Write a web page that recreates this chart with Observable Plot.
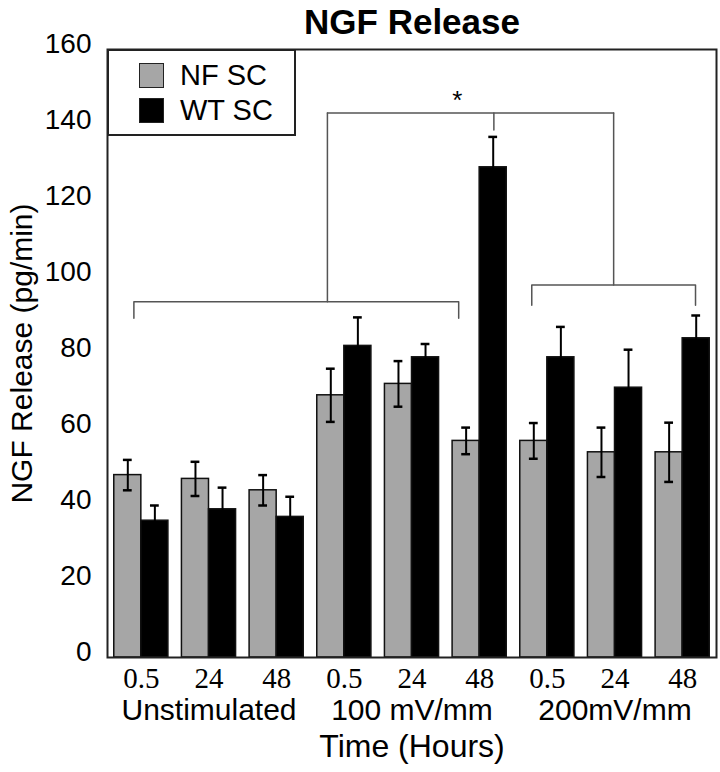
<!DOCTYPE html>
<html>
<head>
<meta charset="utf-8">
<script src="https://cdn.jsdelivr.net/npm/d3@7"></script>
<script src="https://cdn.jsdelivr.net/npm/@observablehq/plot@0.6"></script>
<style>
  body { margin: 0; background: white; }
  #wrap { position: relative; width: 720px; height: 772px; font-family: "Liberation Sans", Arial, sans-serif; }
  #legend { position: absolute; left: 107px; top: 49px; width: 189px; height: 87px; border: 2px solid #222; background: white; box-sizing: border-box; }
  .sw { position: absolute; left: 30px; width: 25px; height: 25px; border: 1.5px solid #222; box-sizing: border-box; }
  .lt { position: absolute; left: 71px; font-size: 29px; line-height: 32px; color: #000; }
</style>
</head>
<body>
<div id="wrap">
  <div id="chart"></div>
  <div id="legend">
    <div class="sw" style="top:12px;background:#a6a6a6"></div><div class="lt" style="top:8px">NF SC</div>
    <div class="sw" style="top:47px;background:#000"></div><div class="lt" style="top:43px">WT SC</div>
  </div>
</div>
<script>
// ---- data ----
const conditions = ["Unstimulated", "100 mV/mm", "200mV/mm"];
const times = ["0.5", "24", "48"];
const series = ["NF SC", "WT SC"];
const nfValues = [48, 47, 44, 69, 72, 57, 57, 54, 54];
const nfErrors = [4, 4.5, 4, 7, 6, 3.5, 4.7, 6.5, 7.8];
const wtValues = [36, 39, 37, 82, 79, 129, 79, 71, 84];
const wtErrors = [4, 5.7, 5.3, 7.5, 3.5, 8, 8, 10, 6];
const yTicks = [0, 20, 40, 60, 80, 100, 120, 140, 160];
// significance brackets (group-index units, value units)
const bracketLines = [
  {id: "A", pts: [[0.39, 89.3], [0.39, 93.6], [5.19, 93.6], [5.19, 89.3]]},
  {id: "Astem", pts: [[3.25, 93.6], [3.25, 143.3]]},
  {id: "B", pts: [[6.27, 92.7], [6.27, 98], [8.69, 98], [8.69, 92.7]]},
  {id: "Bstem", pts: [[7.48, 98], [7.48, 143.3]]},
  {id: "top", pts: [[3.25, 143.3], [7.48, 143.3]]},
  {id: "topstem", pts: [[5.71, 143.3], [5.71, 138.8]]}
];
const starMark = [{x: 5.17, y: 146.5, label: "*"}];

// ---- derived table ----
const rows = [];
nfValues.forEach((v, i) => {
  rows.push({g: i, s: series[0], v, e: nfErrors[i], x1: i + 0.1, x2: i + 0.5});
  rows.push({g: i, s: series[1], v: wtValues[i], e: wtErrors[i], x1: i + 0.5, x2: i + 0.9});
});
rows.forEach(r => r.xc = (r.x1 + r.x2) / 2);
const timeLabels = nfValues.map((_, i) => ({x: i + 0.5, t: times[i % 3]}));
const condLabels = conditions.map((c, k) => ({x: k * 3 + 1.5, t: c}));
const bracketPts = bracketLines.flatMap(b => b.pts.map(([x, y]) => ({id: b.id, x, y})));
const capHalf = 0.065;

const chart = Plot.plot({
  width: 720,
  height: 772,
  marginLeft: 107,
  marginRight: 4,
  marginTop: 49,
  marginBottom: 115,
  x: {domain: [0, 9], axis: null},
  y: {domain: [0, 160], axis: null},
  color: {domain: series, range: ["#a6a6a6", "#000000"]},
  style: {fontFamily: "'Liberation Sans', Arial, sans-serif", background: "white", color: "black"},
  marks: [
    Plot.rect(rows, {x1: "x1", x2: "x2", y1: 0, y2: "v", fill: "s", stroke: "#111", strokeWidth: 1.5}),
    Plot.ruleX(rows, {x: "xc", y1: d => d.v - d.e, y2: d => d.v + d.e, stroke: "#000", strokeWidth: 2}),
    Plot.ruleY(rows, {y: d => d.v + d.e, x1: d => d.xc - capHalf, x2: d => d.xc + capHalf, stroke: "#000", strokeWidth: 2.5}),
    Plot.ruleY(rows, {y: d => d.v - d.e, x1: d => d.xc - capHalf, x2: d => d.xc + capHalf, stroke: "#000", strokeWidth: 2.5}),
    Plot.line(bracketPts, {x: "x", y: "y", z: "id", stroke: "#555", strokeWidth: 1.5}),
    Plot.text(starMark, {x: "x", y: "y", text: "label", fontSize: 26}),
    Plot.frame({stroke: "#222", strokeWidth: 2}),
    // y tick labels
    Plot.text(yTicks, {x: 0, y: d => d, text: d => String(d), textAnchor: "end", dx: -16, dy: -5, fontSize: 28}),
    // y axis label
    Plot.text(["NGF Release (pg/min)"], {frameAnchor: "left", text: d => d, rotate: -90, textAnchor: "middle", lineAnchor: "middle", dx: -85, fontSize: 30}),
    // x time labels
    Plot.text(timeLabels, {x: "x", y: 0, text: "t", dy: 21, fontSize: 29, fontFamily: "'Liberation Serif', 'Times New Roman', serif"}),
    // condition labels
    Plot.text(condLabels, {x: "x", y: 0, text: "t", dy: 53, fontSize: 30}),
    // x axis title
    Plot.text(["Time (Hours)"], {frameAnchor: "bottom", text: d => d, lineAnchor: "middle", dy: 89, fontSize: 32}),
    // title
    Plot.text(["NGF Release"], {frameAnchor: "top", text: d => d, lineAnchor: "middle", dy: -27, fontSize: 35, fontWeight: "bold"})
  ]
});
document.getElementById("chart").appendChild(chart);
</script>
</body>
</html>
